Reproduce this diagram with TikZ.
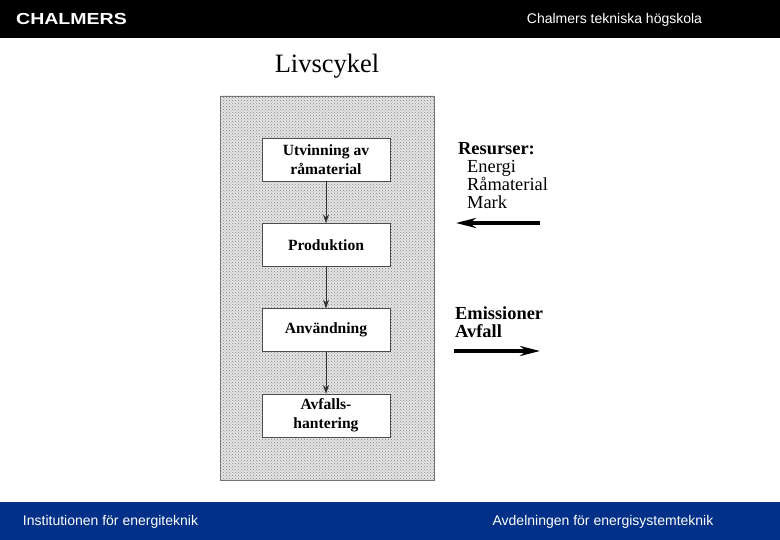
\documentclass[tikz,border=0pt]{standalone}
\usepackage{fontspec}
\setmainfont{Liberation Serif}
\newfontfamily\headfont{Liberation Sans}
\usepackage{xcolor}
\usetikzlibrary{positioning,arrows.meta,patterns}
\definecolor{footblue}{HTML}{003087}
\begin{document}
\begin{tikzpicture}[
  x=1pt, y=-1pt,
  stage/.style={draw=black!70, fill=white, minimum width=128pt, minimum height=43pt,
                inner sep=0pt, outer sep=0pt, align=center, font=\fontsize{15.6}{19}\selectfont\bfseries},
  bar/.style={minimum width=780pt, inner sep=0pt, outer sep=0pt, anchor=north west},
  headtext/.style={font=\headfont\fontsize{14}{16}\selectfont, inner sep=0pt},
  flow/.style={-{Stealth[length=9pt,width=6pt]}, black!80, line width=1pt},
  wide/.style={-{Stealth[length=20pt,width=10pt]}, black, line width=3.4pt},
  side/.style={font=\fontsize{18.4}{18}\selectfont, anchor=north west, align=left, inner sep=0pt},
  node distance=42.33pt,
]
\useasboundingbox (0,0) rectangle (780,540);
\node[bar, fill=black, minimum height=38pt]      (top) at (0,0) {};
\node[bar, fill=footblue, minimum height=38pt]   (foot) at (0,502) {};

\node[font=\headfont\bfseries\fontsize{16}{16}\selectfont, white, inner sep=0pt, xscale=1.22] (logo) at (71.5,18.5) {CHALMERS};
\node[headtext, white] (school) at (614.5,19.5) {Chalmers tekniska högskola};
\node[headtext, white] (inst) at (110.5,521.5) {Institutionen för energiteknik};
\node[headtext, white] (avd) at (603,521.5) {Avdelningen för energisystemteknik};

\node[font=\fontsize{26.5}{28}\selectfont, inner sep=0pt] (title) at (327,66) {Livscykel};

% panel behind the stages
\draw[black!55, fill=black!10] (220,96) rectangle (434,480);
\fill[pattern=crosshatch dots, pattern color=black!50] (220,96) rectangle (434,480);

\node[stage]            (s1) at (326,159.5) {Utvinning av\\råmaterial};
\node[stage, below=of s1] (s2) {Produktion};
\node[stage, below=of s2] (s3) {Användning};
\node[stage, below=of s3] (s4) {Avfalls-\\hantering};

\foreach \a/\b in {s1/s2, s2/s3, s3/s4}{ \draw[flow] (\a) -- (\b); }

\node[side] (res) at (458,142) {\textbf{Resurser:}\\\hspace*{9pt}Energi\\\hspace*{9pt}Råmaterial\\\hspace*{9pt}Mark};
\coordinate (resa) at (540,223);
\coordinate (resb) at (456,223);
\draw[wide] (resa) -- (resb);

\node[side, font=\fontsize{18.4}{18}\selectfont\bfseries] (emi) at (455,307) {Emissioner\\Avfall};
\coordinate (emia) at (454,351);
\coordinate (emib) at (540,351);
\draw[wide] (emia) -- (emib);

\end{tikzpicture}
\end{document}
